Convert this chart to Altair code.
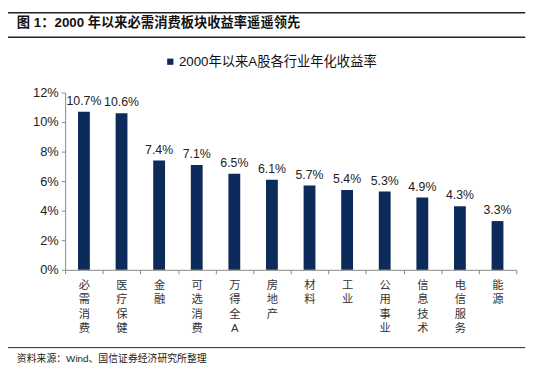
import altair as alt
import pandas as pd

categories = ["必需消费", "医疗保健", "金融", "可选消费", "万得全A", "房地产",
              "材料", "工业", "公用事业", "信息技术", "电信服务", "能源"]
values = [10.7, 10.6, 7.4, 7.1, 6.5, 6.1, 5.7, 5.4, 5.3, 4.9, 4.3, 3.3]
series_name = "2000年以来A股各行业年化收益率"
y_ticks = [0, 2, 4, 6, 8, 10, 12]
title_text = "图 1：2000 年以来必需消费板块收益率遥遥领先"
source_text = "资料来源：Wind、国信证券经济研究所整理"

df = pd.DataFrame({"cat": categories, "value": values, "series": series_name})

FONT = "Liberation Sans, Noto Sans CJK SC"
BAR = "#0C2A5A"

x_enc = alt.X("cat:N", sort=categories, title=None,
              scale=alt.Scale(paddingInner=0, paddingOuter=0),
              axis=alt.Axis(labelAngle=0, labelExpr="split(datum.label, '')",
                            labelLineHeight=14.5, labelBaseline="top",
                            labelFont=FONT, labelFontSize=11.5, labelColor="#333",
                            labelPadding=6, tickBand="extent", tickSize=4,
                            domainColor="#888", tickColor="#888"))
y_enc = alt.Y("value:Q", title=None,
              scale=alt.Scale(domain=[0, 12], nice=False),
              axis=alt.Axis(values=y_ticks, labelExpr="datum.value + '%'",
                            labelOverlap=False,
                            grid=False, tickSize=4, domainColor="#888",
                            tickColor="#888", labelFont=FONT, labelFontSize=13,
                            labelColor="#222", labelPadding=3))

base = alt.Chart(df)

bars = base.mark_bar(width=12, color=BAR).encode(
    x=x_enc,
    y=y_enc,
    color=alt.Color("series:N", scale=alt.Scale(range=[BAR]),
                    legend=alt.Legend(title=None, orient="none",
                                      legendX=100, legendY=-38,
                                      symbolType="square", symbolSize=40,
                                      symbolStrokeWidth=0,
                                      labelFont=FONT, labelFontSize=13.5,
                                      labelColor="#111", labelOffset=2,
                                      labelLimit=400)),
)

labels = base.transform_calculate(
    lab="format(datum.value, '.1f') + '%'"
).mark_text(baseline="bottom", dy=-4, font=FONT, fontSize=12.5,
            color="#222").encode(
    x=x_enc,
    y=y_enc,
    text="lab:N",
)

one = alt.Data(values=[{}])

title = alt.Chart(one).mark_text(align="left", baseline="middle", font=FONT,
                                 fontSize=13.5, fontWeight="bold",
                                 color="#111").encode(
    x=alt.value(-49), y=alt.value(-70), text=alt.value(title_text))

rule_top = alt.Chart(one).mark_rule(color="#222", strokeWidth=1.5).encode(
    x=alt.value(-58), x2=alt.value(467), y=alt.value(-81))
rule_mid = alt.Chart(one).mark_rule(color="#222", strokeWidth=1.5).encode(
    x=alt.value(-58), x2=alt.value(467), y=alt.value(-56))
rule_bot = alt.Chart(one).mark_rule(color="#222", strokeWidth=1).encode(
    x=alt.value(-58), x2=alt.value(467), y=alt.value(259))

source = alt.Chart(one).mark_text(align="left", baseline="middle", font=FONT,
                                  fontSize=10, color="#222").encode(
    x=alt.value(-49), y=alt.value(271), text=alt.value(source_text))

chart = alt.layer(bars, labels, title, rule_top, rule_mid, rule_bot, source).properties(
    width=458, height=180,
    autosize=alt.AutoSizeParams(type="none"),
    padding={"left": 58, "top": 83, "right": 21, "bottom": 105},
).configure_view(stroke=None)

chart.save("out.html", embed_options={"renderer": "svg", "actions": False})
